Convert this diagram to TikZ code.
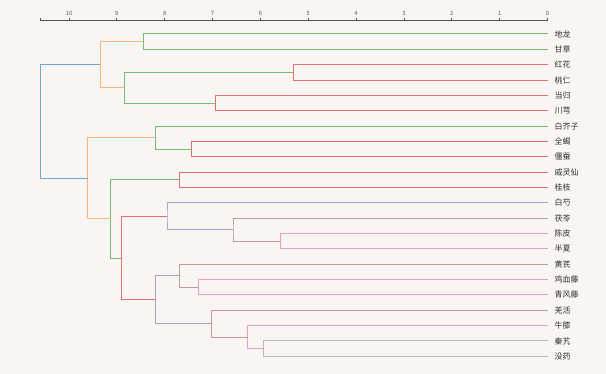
\documentclass[tikz,border=0pt]{standalone}
\usepackage{fontspec}
\setmainfont{Noto Sans CJK SC}
\usetikzlibrary{calc}
\definecolor{bgc}{HTML}{F8F5F2}
\definecolor{txt}{HTML}{333333}
\definecolor{axc}{HTML}{555555}
\definecolor{tblue}{HTML}{1F77B4}
\definecolor{torange}{HTML}{FF7F0E}
\definecolor{tgreen}{HTML}{2CA02C}
\definecolor{tred}{HTML}{D62728}
\definecolor{tpurple}{HTML}{9467BD}
\definecolor{tbrown}{HTML}{8C564B}
\definecolor{tpink}{HTML}{E377C2}
\definecolor{tgray}{HTML}{7F7F7F}
\colorlet{cblue}{tblue!62!bgc}
\colorlet{corange}{torange!55!bgc}
\colorlet{cgreen}{tgreen!65!bgc}
\colorlet{cred}{tred!65!bgc}
\colorlet{cpurple}{tpurple!65!bgc}
\colorlet{cbrown}{tbrown!55!bgc}
\colorlet{cpink}{tpink!70!bgc}
\colorlet{cgray}{tgray!50!bgc}
\newcommand\dlink[5]{%
  \path let \p1=($(#4)!0.5!(#5)$) in coordinate (#2) at (#3pt,\y1);
  \draw[link,#1] (#4) -| (#2) |- (#5);}
\begin{document}
\begin{tikzpicture}[x=1pt,y=-1pt,
  link/.style={line width=1pt},
  leaflab/.style={anchor=west,font=\fontsize{8}{9}\selectfont,text=txt,inner sep=0pt},
  ticklab/.style={font=\fontsize{5.8}{6}\selectfont,text=axc,inner sep=0pt},
  axisline/.style={draw=axc,line width=0.8pt}]
\fill[bgc] (0,0) rectangle (606,374);
\useasboundingbox (0,0) rectangle (606,374);
% axis
\coordinate (AxL) at (40.3,20.7);
\coordinate (AxR) at (547.5,20.7);
\draw[axisline] (AxL) -- (AxR);
\draw[axisline] (AxL) -- ++(0,-3);
\foreach \v in {0,...,10}{
  \coordinate (tk\v) at ({547.5-47.85*\v},20.7);
  \draw[axisline] (tk\v) -- ++(0,-3);
  \node[ticklab] (tl\v) at ({547.5-47.85*\v},13.8) {\v};
}
% leaves
\foreach \n [count=\i from 0] in {地龙,甘草,红花,桃仁,当归,川芎,白芥子,全蝎,僵蚕,威灵仙,桂枝,白芍,茯苓,陈皮,半夏,黄芪,鸡血藤,青风藤,羌活,牛膝,秦艽,没药}{
  \coordinate (L\i) at (547.5,{34+15.35*\i});
  \node[leaflab] (T\i) at (554.5,{34+15.35*\i}) {\n};
}
% links
\dlink{cgreen}{N1}{143.3}{L0}{L1}
\dlink{cred}{N2}{293.3}{L2}{L3}
\dlink{cred}{N3}{215.3}{L4}{L5}
\dlink{cgreen}{N4}{124.3}{N2}{N3}
\dlink{corange}{N5}{100.3}{N1}{N4}
\dlink{cred}{N6}{191.7}{L7}{L8}
\dlink{cgreen}{N7}{155.3}{L6}{N6}
\dlink{cred}{N8}{179.3}{L9}{L10}
\dlink{cpink}{N9}{280.3}{L13}{L14}
\dlink{cbrown}{N10}{233}{L12}{N9}
\dlink{cpurple}{N11}{167}{L11}{N10}
\dlink{cpink}{N12}{198.3}{L16}{L17}
\dlink{cbrown}{N13}{179.3}{L15}{N12}
\dlink{cgray}{N14}{263.7}{L20}{L21}
\dlink{cpink}{N15}{247.7}{L19}{N14}
\dlink{cbrown}{N16}{211.7}{L18}{N15}
\dlink{cpurple}{N17}{155.3}{N13}{N16}
\dlink{cred}{N18}{121.3}{N11}{N17}
\dlink{cgreen}{N19}{110.7}{N8}{N18}
\dlink{corange}{N20}{87.7}{N7}{N19}
\dlink{cblue}{N21}{40.3}{N5}{N20}
\end{tikzpicture}
\end{document}
